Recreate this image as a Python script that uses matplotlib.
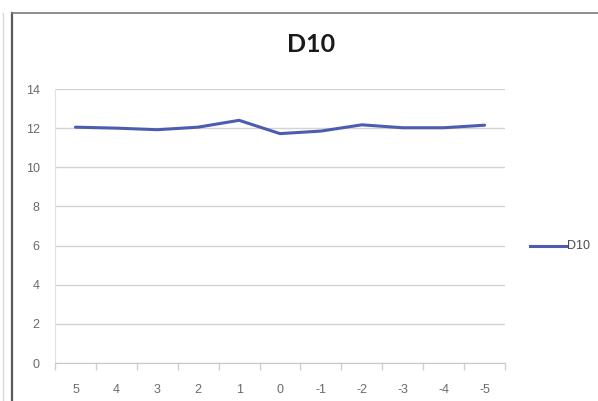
import matplotlib
matplotlib.use("Agg")
import matplotlib.pyplot as plt
from matplotlib.lines import Line2D

categories = ["5", "4", "3", "2", "1", "0", "-1", "-2", "-3", "-4", "-5"]
d10 = [12.05, 12.0, 11.92, 12.05, 12.4, 11.72, 11.85, 12.17, 12.02, 12.02, 12.15]
y_ticks = [0, 2, 4, 6, 8, 10, 12, 14]
series_name = "D10"
title = "D10"

W, H = 598, 401
fig = plt.figure(figsize=(W / 100, H / 100), dpi=100)
fig.patch.set_facecolor("white")

ax = fig.add_axes([55 / W, 1 - 363 / H, 450 / W, 274 / H])
x = list(range(len(categories)))
line, = ax.plot(x, d10, color="#4d5cb0", lw=2.2, solid_joinstyle="round",
                solid_capstyle="round", zorder=3)

ax.set_xlim(-0.5, len(categories) - 0.5)
ax.set_ylim(0, 14)
ax.set_yticks(y_ticks)
ax.set_xticks(x)
ax.set_xticklabels(categories)
ax.grid(axis="y", color="#d4d4d4", lw=1.0)
ax.set_axisbelow(True)

for s in ["top", "right"]:
    ax.spines[s].set_visible(False)
ax.spines["left"].set_color("#e2e2e2")
ax.spines["bottom"].set_color("#c8c8c8")

# category-boundary tick marks on the x axis
ax.set_xticks([i + 0.5 for i in range(-1, len(categories))], minor=True)
ax.tick_params(axis="x", which="minor", length=5, color="#d0d0d0", width=1)
ax.tick_params(axis="x", which="major", length=0, pad=15,
               labelsize=9, labelcolor="#6a6a6a")
ax.tick_params(axis="y", length=0, pad=11, labelsize=9, labelcolor="#6a6a6a")
for lbl in ax.get_xticklabels() + ax.get_yticklabels():
    lbl.set_fontfamily("Liberation Sans")

fig.text(311 / W, 1 - 45 / H, title, ha="center", va="center",
         fontsize=18, fontweight="bold", family="Lato", color="#1a1a1a")

# legend entry
fig.add_artist(Line2D([530 / W, 566 / W], [1 - 246 / H, 1 - 246 / H],
                      transform=fig.transFigure, color="#4d5cb0", lw=2.2))
fig.text(567 / W, 1 - 246 / H, series_name, ha="left", va="center",
         fontsize=9, family="Liberation Sans", color="#4a4a4a")

# frame edges of the surrounding sheet
fig.add_artist(Line2D([12 / W, 12 / W], [0, 1 - 13 / H],
                      transform=fig.transFigure, color="#5a5a5a", lw=1.6))
fig.add_artist(Line2D([12 / W, 1], [1 - 13 / H, 1 - 13 / H],
                      transform=fig.transFigure, color="#7a7a7a", lw=1.2))
fig.add_artist(Line2D([3 / W, 3 / W], [0, 1 - 13 / H],
                      transform=fig.transFigure, color="#d8d8d8", lw=1.0))

fig.savefig("out.png", dpi=100, facecolor="white")
